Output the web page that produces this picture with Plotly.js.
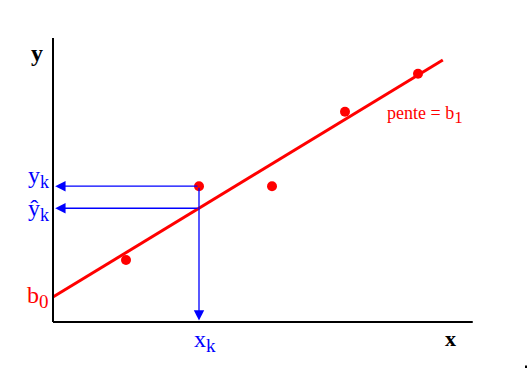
<!DOCTYPE html>
<html><head><meta charset="utf-8">
<script src="https://cdn.plot.ly/plotly-3.0.1.min.js"></script>
<style>html,body{margin:0;padding:0;background:#fff}#c{width:527px;height:369px}</style>
</head><body><div id="c"></div>
<script>
var xPoints = [1, 2, 3, 4, 5];
var yPoints = [0.85, 1.86, 1.86, 2.88, 3.40];
var intercept = 0.342;   // b0
var slope = 0.608;       // b1
var lineX = [0, 5.34];
var kIndex = 1;          // point k
var xAxisEnd = 5.75, yAxisEnd = 3.89;

var lineY = lineX.map(function(x){ return intercept + slope*x; });
var xk = xPoints[kIndex], yk = yPoints[kIndex], yhat = intercept + slope*xk;

var serif = "Liberation Serif, Times New Roman, serif";
var red = "#ff0000", blue = "#0000ff";

// layout helpers: pixel position -> axis units (origin at 53,322, 73 px per unit)
function X(px){ return (px - 53) / 73; }
function Y(py){ return (322 - py) / 73; }
function sub(t, size){ return "<sub><span style='font-size:" + size + "px'>" + t + "</span></sub>"; }

var traces = [
  {x: lineX, y: lineY, mode: "lines", line: {color: red, width: 3}, hoverinfo: "skip"},
  {x: xPoints, y: yPoints, mode: "markers", marker: {symbol: "circle", size: 10, color: red}, hoverinfo: "skip"}
];

function arrow(x, y, ax, ay){
  return {x: x, y: y, ax: ax, ay: ay, xref: "x", yref: "y", axref: "x", ayref: "y",
    showarrow: true, arrowhead: 2, arrowsize: 1.6, arrowwidth: 1.3, arrowcolor: blue, text: ""};
}
function label(text, px, py, color, size, anchor){
  return {x: X(px), y: Y(py), xref: "x", yref: "y", text: text, showarrow: false,
    xanchor: anchor || "center", yanchor: "middle",
    font: {family: serif, size: size, color: color}};
}

var layout = {
  width: 527, height: 369,
  margin: {l: 0, r: 0, t: 0, b: 0},
  paper_bgcolor: "#fff", plot_bgcolor: "#fff",
  showlegend: false,
  xaxis: {range: [X(0), X(527)], visible: false, fixedrange: true},
  yaxis: {range: [Y(369), Y(0)], visible: false, fixedrange: true},
  shapes: [
    {type: "line", x0: 0, y0: 0, x1: 0, y1: yAxisEnd, line: {color: "#000", width: 2}},
    {type: "line", x0: 0, y0: 0, x1: xAxisEnd, y1: 0, line: {color: "#000", width: 2}},
    {type: "rect", x0: X(525), y0: Y(368), x1: X(527), y1: Y(365.5), fillcolor: "#000", line: {width: 0}}
  ],
  annotations: [
    arrow(0.03, yk, xk, yk),
    arrow(0.03, yhat, xk, yhat),
    arrow(xk, 0.02, xk, yk),
    label("<b>y</b>", 37, 53, "#000", 24),
    label("<b>x</b>", 450, 338, "#000", 22),
    label("b" + sub("0", 19), 38, 297, red, 24),
    label("pente = b" + sub("1", 17), 425, 115, red, 18),
    label("y" + sub("k", 18), 38, 177, blue, 24),
    label("ŷ" + sub("k", 18), 38, 210, blue, 24),
    label("x" + sub("k", 19), 205, 341, blue, 24)
  ]
};
Plotly.newPlot("c", traces, layout, {staticPlot: true});
</script></body></html>
